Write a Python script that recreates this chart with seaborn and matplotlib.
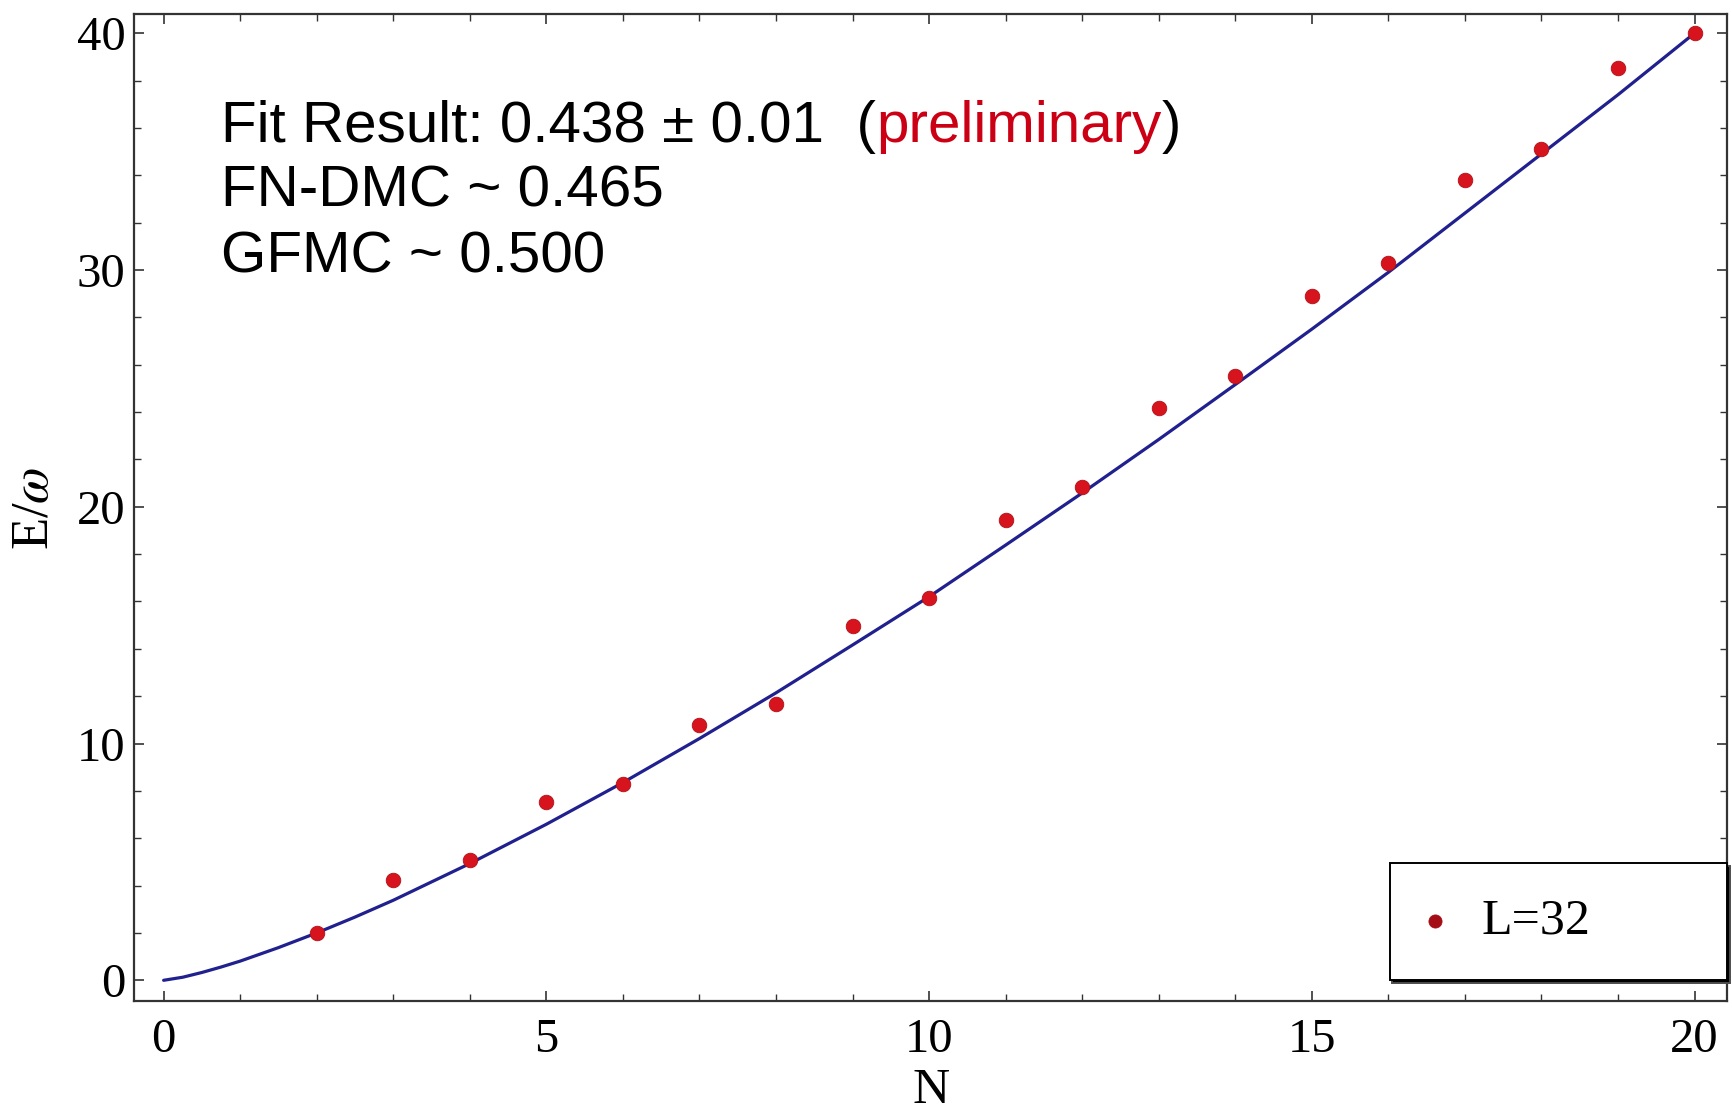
import matplotlib
matplotlib.use("Agg")
import matplotlib.pyplot as plt
import seaborn as sns
import pandas as pd
from matplotlib.ticker import MultipleLocator

# ---- data ----
N_points = [2, 3, 4, 5, 6, 7, 8, 9, 10, 11, 12, 13, 14, 15, 16, 17, 18, 19, 20]
E_points = [2.01, 4.25, 5.09, 7.51, 8.31, 10.78, 11.67, 14.98, 16.15, 19.46,
            20.82, 24.18, 25.53, 28.89, 30.29, 33.79, 35.10, 38.55, 40.00]

curve_N = [0, 0.25, 0.5, 0.75, 1, 1.5, 2, 2.5, 3, 4, 5, 6, 7, 8, 9, 10, 11,
           12, 13, 14, 15, 16, 17, 18, 19, 20]
curve_E = [0, 0.13, 0.33, 0.56, 0.81, 1.38, 2.00, 2.67, 3.38, 4.93, 6.59,
           8.35, 10.21, 12.14, 14.16, 16.2, 18.38, 20.58, 22.84, 25.16, 27.5,
           29.9, 32.4, 34.9, 37.4, 40.0]

legend_label = "L=32"
x_ticks = [0, 5, 10, 15, 20]
y_ticks = [0, 10, 20, 30, 40]

points_df = pd.DataFrame({"N": N_points, "E": E_points})
curve_df = pd.DataFrame({"N": curve_N, "E": curve_E})

sns.set_theme(style="white")
plt.rcParams["font.family"] = ["Liberation Serif", "DejaVu Serif"]
plt.rcParams["mathtext.fontset"] = "stix"
plt.rcParams["text.color"] = "black"
plt.rcParams["xtick.color"] = "black"
plt.rcParams["ytick.color"] = "black"
plt.rcParams["axes.labelcolor"] = "black"

fig = plt.figure(figsize=(17.33, 11.13), dpi=100)
ax = fig.add_axes([0.0772, 0.1003, 0.9196, 0.8867])

line_color = "#20208f"
point_color = "#d7141e"

sns.lineplot(data=curve_df, x="N", y="E", ax=ax, color=line_color,
             linewidth=2.3, legend=False, sort=True, zorder=2)
sns.scatterplot(data=points_df, x="N", y="E", ax=ax, color=point_color,
                s=110, edgecolor="#b01018", linewidth=0.6, label=legend_label,
                zorder=3)

ax.set_xlim(-0.39, 20.43)
ax.set_ylim(-0.89, 40.79)
ax.set_xticks(x_ticks)
ax.set_yticks(y_ticks)
ax.xaxis.set_minor_locator(MultipleLocator(1))
ax.yaxis.set_minor_locator(MultipleLocator(2))
ax.tick_params(which="both", direction="in", top=True, right=True,
               bottom=True, left=True, color="#333333")
ax.tick_params(which="major", length=7, width=1.2)
ax.tick_params(which="minor", length=5, width=1.0)
ax.tick_params(axis="x", which="major", labelsize=35, pad=12)
ax.tick_params(axis="y", which="major", labelsize=35, pad=6)
for sp in ax.spines.values():
    sp.set_color("#333333")
    sp.set_linewidth(1.6)

ax.set_xlabel("N", fontsize=37)
ax.set_ylabel(r"E/$\omega$", fontsize=38)
ax.xaxis.set_label_coords(0.5, -0.067)
ax.yaxis.set_label_coords(-0.047, 0.5)

leg = ax.legend(loc="lower left", bbox_to_anchor=(0.788, 0.0213, 0.212, 0.12),
                mode="expand", borderaxespad=0, frameon=True, fancybox=False,
                framealpha=1, edgecolor="black", fontsize=36, borderpad=0.71,
                handlelength=0.41, handletextpad=0.71, markerscale=0.9,
                shadow={"facecolor": "black", "alpha": 1})
leg.get_frame().set_linewidth(1.4)
for h in leg.legend_handles:
    h.set_color("#a50d16")
    h.set_edgecolor("#a50d16")

# ---- annotation text ----
sans = ["Liberation Sans", "DejaVu Sans"]
tx = 0.0548
fs = 42
t1 = ax.text(tx, 0.871, "Fit Result: 0.438 \u00b1 0.01  (", transform=ax.transAxes,
             fontsize=fs, family=sans, va="baseline", ha="left", color="black")
t2 = ax.annotate("preliminary", xy=(1, 0), xycoords=t1, fontsize=fs,
                 family=sans, va="bottom", ha="left", color="#cc0014")
t3 = ax.annotate(")", xy=(1, 0), xycoords=t2, fontsize=fs, family=sans,
                 va="bottom", ha="left", color="black")
ax.text(tx, 0.805, "FN-DMC ~ 0.465", transform=ax.transAxes, fontsize=fs,
        family=sans, va="baseline", ha="left", color="black")
ax.text(tx, 0.739, "GFMC ~ 0.500", transform=ax.transAxes, fontsize=fs,
        family=sans, va="baseline", ha="left", color="black")

fig.savefig("out.png", dpi=100, facecolor="white")
